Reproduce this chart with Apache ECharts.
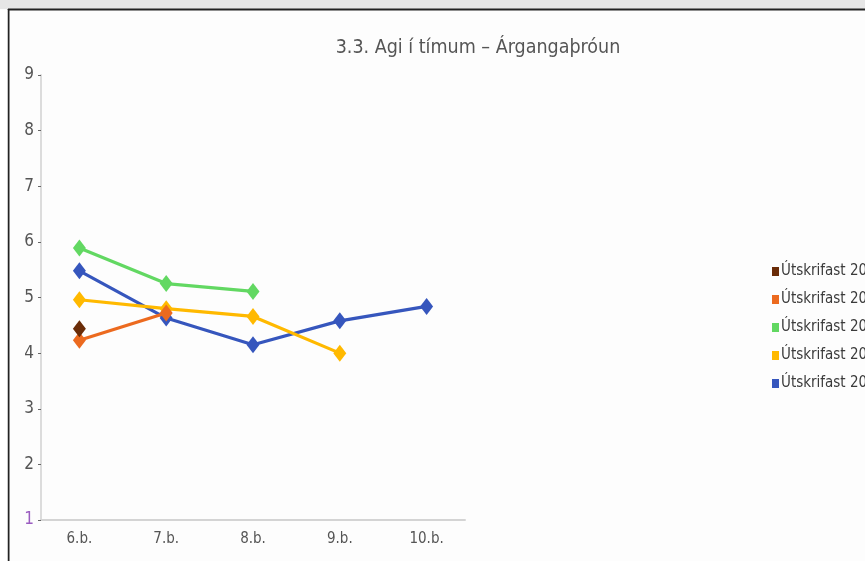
<!DOCTYPE html>
<html><head><meta charset="utf-8">
<script src="https://cdn.jsdelivr.net/npm/echarts@6/dist/echarts.min.js"></script>
<style>html,body{margin:0;padding:0;background:#fff}#c{width:865px;height:561px}</style>
</head><body><div id="c"></div>
<script>
const titleText = '3.3. Agi í tímum – Árgangaþróun';
const categories = ['6.b.', '7.b.', '8.b.', '9.b.', '10.b.'];
const yTicks = [1, 2, 3, 4, 5, 6, 7, 8, 9];
const names = ['Útskrifast 2024', 'Útskrifast 2023', 'Útskrifast 2022', 'Útskrifast 2021', 'Útskrifast 2020'];
const s2024 = [4.44, null, null, null, null];
const s2023 = [4.23, 4.72, null, null, null];
const s2022 = [5.89, 5.25, 5.11, null, null];
const s2021 = [4.96, 4.80, 4.66, 4.00, null];
const s2020 = [5.48, 4.63, 4.15, 4.58, 4.84];
const colors = ['#6a2c08', '#ec6a1f', '#62d862', '#ffb900', '#3656bd'];
const seriesData = [s2024, s2023, s2022, s2021, s2020];

const font = "'Liberation Sans Narrow','DejaVu Sans Condensed','Roboto Condensed',sans-serif";
const chart = echarts.init(document.getElementById('c'));
chart.setOption({
  backgroundColor: '#fdfdfd',
  animation: false,
  title: { text: titleText, left: 473, top: 33, textAlign: 'center',
    textStyle: { fontFamily: font, fontWeight: 300, fontSize: 19.5, color: '#555' } },
  legend: {
    orient: 'vertical', left: 772, top: 263, padding: 0, itemGap: 11, itemWidth: 7, itemHeight: 9,
    icon: 'rect', data: names,
    textStyle: { fontFamily: font, fontSize: 15, lineHeight: 17, color: '#3a3a3a', padding: [0,0,0,-3] }
  },
  graphic: [
    { type: 'rect', shape: { x: 0, y: 0, width: 865, height: 9 }, style: { fill: '#e6e6e6' }, silent: true },
    { type: 'line', shape: { x1: 8, y1: 9.5, x2: 865, y2: 9.5 }, style: { stroke: '#222', lineWidth: 2 }, silent: true },
    { type: 'line', shape: { x1: 8.5, y1: 9, x2: 8.5, y2: 561 }, style: { stroke: '#222', lineWidth: 2 }, silent: true },
    { type: 'rect', shape: { x: 0, y: 10, width: 7.5, height: 551 }, style: { fill: '#ffffff' }, silent: true }
  ],
  grid: [
    { left: 36, width: 434, top: 75, bottom: 41 },
    { left: 41, width: 424, top: 75, bottom: 41 }
  ],
  xAxis: [
    { type: 'category', data: categories, gridIndex: 0, boundaryGap: true,
      axisLine: { show: false }, axisTick: { show: false },
      axisLabel: { fontFamily: font, fontSize: 15, color: '#555', margin: 12 } },
    { type: 'category', data: categories, gridIndex: 1,
      axisLine: { show: true, lineStyle: { color: '#d4d4d4', width: 2 } },
      axisTick: { show: false }, axisLabel: { show: false } }
  ],
  yAxis: [
    { type: 'value', gridIndex: 0, min: 1, max: 9, interval: 1, offset: -5,
      axisLine: { show: true, lineStyle: { color: '#dcdcdc', width: 2 } },
      axisTick: { show: true, length: 3, lineStyle: { color: '#666' } },
      splitLine: { show: false },
      axisLabel: { fontFamily: font, fontSize: 17, margin: 7,
        color: function (v) { return v == 1 ? '#9a5cc0' : '#555'; } } },
    { type: 'value', gridIndex: 1, min: 1, max: 9, show: false, splitLine: { show: false } }
  ],
  series: names.map((n, i) => ({
    name: n, type: 'line', data: seriesData[i], xAxisIndex: 0, yAxisIndex: 0,
    color: colors[i], symbol: 'diamond', symbolSize: [13, 17], showSymbol: true,
    lineStyle: { width: 3.2, color: colors[i] }, itemStyle: { color: colors[i] },
    connectNulls: false, z: 10 - i
  }))
});
</script></body></html>
